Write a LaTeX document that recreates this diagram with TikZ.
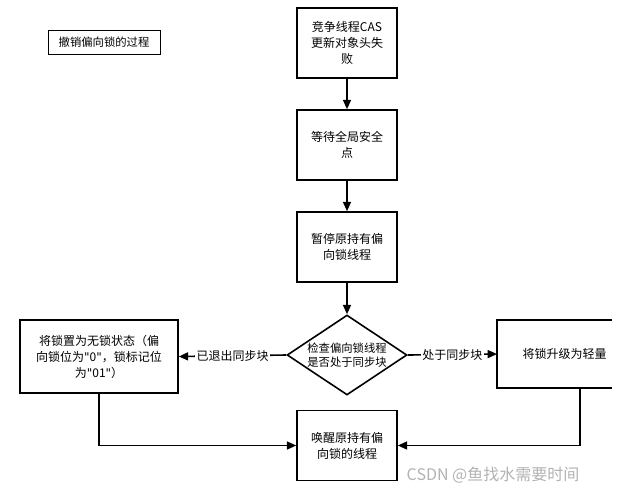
\documentclass[tikz,border=0pt]{standalone}
\usepackage{fontspec}
\setmainfont{Noto Sans CJK SC}
\usetikzlibrary{shapes.geometric,arrows.meta}
\newcommand{\dq}{{\fontspec{DejaVu Sans}\symbol{34}}}
\begin{document}
\begin{tikzpicture}[x=0.75pt,y=-0.75pt,
  box/.style={draw,line width=1.2pt,minimum width=75pt,minimum height=52.5pt,align=center,font=\fontsize{9}{12}\selectfont},
  arr/.style={line width=1.2pt,-{Triangle[length=7pt,width=6pt]}},
  lbl/.style={fill=white,inner sep=1pt,font=\fontsize{9}{12}\selectfont}]
\useasboundingbox (0,0) rectangle (630,497);
\node[draw,line width=0.5pt,minimum width=84pt,minimum height=18pt,font=\fontsize{8.5}{10}\selectfont] (t) at (104,42) {撤销偏向锁的过程};
\node[box] (b1) at (347,43) {竞争线程CAS\\更新对象头失\\败};
\node[box] (b2) at (347,145) {等待全局安全\\点};
\node[box] (b3) at (347,247) {暂停原持有偏\\向锁线程};
\node[draw,diamond,aspect=1.6,line width=1.2pt,minimum width=90pt,minimum height=60pt,inner sep=0pt,align=center,font=\fontsize{8.5}{11}\selectfont] (d) at (347,355) {检查偏向锁线程\\是否处于同步块};
\node[box,minimum width=118.5pt,minimum height=55pt] (l) at (99,356.5) {将锁置为无锁状态（偏\\向锁位为\dq0\dq，锁标记位\\为\dq01\dq）};
\node[box] (w) at (347,445.5) {唤醒原持有偏\\向锁的线程};
\coordinate (rtl) at (497,320); \coordinate (rbl) at (497,388);
\draw[line width=1.2pt] (612,320) -- (rtl) -- (rbl) -- (612,388);
\node[font=\fontsize{9}{12}\selectfont,anchor=west] (r) at (518,354) {将锁升级为轻量};
\coordinate (rb) at (580,388);
\draw[arr] (b1) -- (b2);
\draw[arr] (b2) -- (b3);
\draw[arr] (b3) -- (d);
\draw[arr] (d.west) -- node[lbl]{已退出同步块} (l.east);
\draw[arr] (d.east) -- node[lbl]{处于同步块} (497,354);
\draw[arr] (l.south) |- (w.west);
\draw[arr] (rb) |- (w.east);
\node[text=gray!60,font=\fontsize{12}{14}\selectfont,anchor=west] (wm) at (402,475) {CSDN @鱼找水需要时间};
\end{tikzpicture}
\end{document}
